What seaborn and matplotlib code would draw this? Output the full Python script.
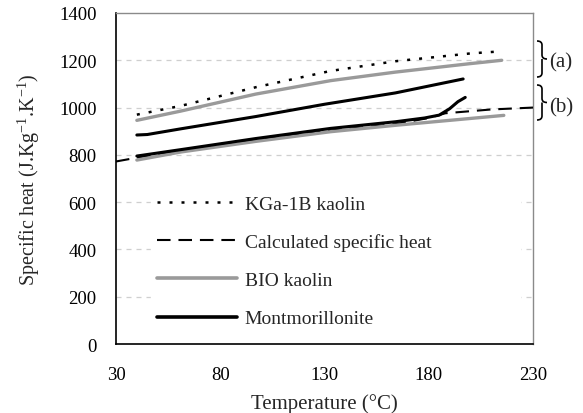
import matplotlib
matplotlib.use("Agg")
import matplotlib.pyplot as plt
import seaborn as sns
import pandas as pd
from matplotlib.path import Path
from matplotlib.patches import PathPatch
from matplotlib.lines import Line2D

# ---- data ----
t_kga = [40, 61, 97, 133, 164, 200, 215]
cp_kga = [970, 1007, 1086, 1155, 1196, 1229, 1238]

t_calc = [30, 40, 61, 97, 133, 164, 180, 188, 210, 230]
cp_calc = [772, 788, 818, 862, 903, 930, 956, 976, 992, 1000]

t_bio_a = [40, 61, 97, 133, 164, 200, 215]
cp_bio_a = [946, 985, 1057, 1114, 1150, 1186, 1200]

t_bio_b = [40, 61, 97, 133, 164, 200, 216]
cp_bio_b = [778, 812, 857, 898, 925, 954, 967]

t_mont_a = [40, 45, 61, 97, 130, 164, 196.5]
cp_mont_a = [884, 886, 910, 962, 1014, 1062, 1121]

t_mont_b = [40, 61, 97, 133, 164, 178, 185, 190, 194, 197.5]
cp_mont_b = [795, 822, 869, 912, 940, 956, 968, 995, 1025, 1043]

x_ticks = [30, 80, 130, 180, 230]
y_ticks = [0, 200, 400, 600, 800, 1000, 1200, 1400]
legend_labels = ["KGa-1B kaolin", "Calculated specific heat", "BIO kaolin", "Montmorillonite"]
group_labels = ["(a)", "(b)"]

sns.set_style("white")
plt.rcParams['font.family'] = ['Liberation Serif', 'DejaVu Serif']
plt.rcParams['mathtext.fontset'] = 'custom'
plt.rcParams['mathtext.rm'] = 'Liberation Serif'
plt.rcParams['mathtext.it'] = 'Liberation Serif:italic'
plt.rcParams['mathtext.default'] = 'rm'

W, H = 583, 414
fig = plt.figure(figsize=(W / 100, H / 100), dpi=100)
ax = fig.add_axes([116 / W, 1 - 345 / H, (533 - 116) / W, (345 - 14) / H])

grey = "#9a9a9a"
dotted = (0, (1.2, 3.6))
dashed = (0, (6.5, 3.8))

sns.lineplot(x=t_calc, y=cp_calc, ax=ax, color="black", lw=1.5, linestyle=dashed, zorder=3)
sns.lineplot(x=t_bio_a, y=cp_bio_a, ax=ax, color=grey, lw=2.4, zorder=4)
sns.lineplot(x=t_bio_b, y=cp_bio_b, ax=ax, color=grey, lw=2.4, zorder=4)
sns.lineplot(x=t_mont_a, y=cp_mont_a, ax=ax, color="black", lw=2.2, zorder=5)
sns.lineplot(x=t_mont_b, y=cp_mont_b, ax=ax, color="black", lw=2.2, zorder=5)
sns.lineplot(x=t_kga, y=cp_kga, ax=ax, color="black", lw=1.8, linestyle=dotted, zorder=5)

ax.set_xlim(30, 230)
ax.set_ylim(0, 1400)
ax.set_xticks(x_ticks)
ax.set_yticks(y_ticks)
ax.tick_params(axis='x', direction='in', length=7, width=1, labelsize=13.5, pad=16, colors='black')
ax.tick_params(axis='y', direction='out', length=5, width=1, labelsize=13.5, pad=9, colors='black')

for yv in y_ticks[1:-1]:
    ax.axhline(yv, color="#cfcfcf", lw=0.9, linestyle=(0, (4, 4)), zorder=1)

for s in ["left", "bottom"]:
    ax.spines[s].set_color("black")
    ax.spines[s].set_linewidth(1.2)
for s in ["top", "right"]:
    ax.spines[s].set_color("#8a8a8a")
    ax.spines[s].set_linewidth(1.0)

ax.set_xlabel("Temperature (°C)", fontsize=15)
ax.set_ylabel("Specific heat (J.Kg$^{-1}$.K$^{-1}$)", fontsize=14.5)
ax.xaxis.set_label_coords(0.5, -0.148)
ax.yaxis.set_label_coords(-0.177, 0.5)

handles = [
    Line2D([], [], color="black", lw=1.8, linestyle=dotted),
    Line2D([], [], color="black", lw=1.5, linestyle=dashed),
    Line2D([], [], color=grey, lw=2.6),
    Line2D([], [], color="black", lw=2.6),
]
leg = ax.legend(handles, legend_labels, loc="upper left",
                bbox_to_anchor=(0.085, 0.468, 0.885, 0.0), mode="expand",
                frameon=True, facecolor="white", edgecolor="white", framealpha=1,
                fontsize=14, handlelength=4.1, handletextpad=0.4,
                labelspacing=1.06, borderpad=0.3, borderaxespad=0)
leg.set_zorder(2)


def brace(x0, y0, y1, w=10):
    # coordinates in figure pixels from top-left
    def c(x, y):
        return (x / W, 1 - y / H)
    ym = (y0 + y1) / 2
    xm = x0 + w / 2
    r = 4
    verts = [c(x0, y0), c(xm, y0), c(xm, y0 + r),
             c(xm, ym - r), c(xm, ym), c(x0 + w, ym),
             c(xm, ym), c(xm, ym + r),
             c(xm, y1 - r), c(xm, y1), c(x0, y1)]
    codes = [Path.MOVETO, Path.CURVE3, Path.CURVE3,
             Path.LINETO, Path.CURVE3, Path.CURVE3,
             Path.MOVETO, Path.LINETO,
             Path.LINETO, Path.CURVE3, Path.CURVE3]
    p = PathPatch(Path(verts, codes), transform=fig.transFigure, fill=False,
                  edgecolor="black", lw=1.2)
    fig.add_artist(p)


brace(537, 42, 78)
brace(537, 86, 121)
fig.text(549 / W, 1 - 63 / H, group_labels[0], fontsize=15, va="center", ha="left")
fig.text(549 / W, 1 - 108 / H, group_labels[1], fontsize=15, va="center", ha="left")

fig.savefig("out.png", dpi=100)
